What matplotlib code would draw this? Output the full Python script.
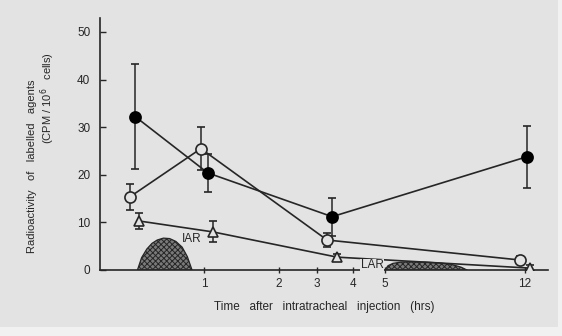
import numpy as np
import matplotlib
matplotlib.use('Agg')
import matplotlib.pyplot as plt
from matplotlib.patches import Rectangle

plt.rcParams['font.family'] = ['Liberation Sans', 'DejaVu Sans']
plt.rcParams['hatch.linewidth'] = 0.7

# data
x_ticks = [1, 2, 3, 4, 5, 12]
y_ticks = [0, 10, 20, 30, 40, 50]

t_open = [0.29, 0.97, 3.28, 11.75]
open_vals = [15.4, 25.5, 6.3, 2.1]
open_err = [2.7, 4.5, 1.5, 0.8]

t_filled = [0.34, 1.05, 3.42, 12.09]
filled_vals = [32.2, 20.4, 11.2, 23.8]
filled_err = [11.0, 4.0, 4.0, 6.5]

t_tri = [0.375, 1.12, 3.56, 12.2]
tri_vals = [10.3, 8.0, 2.7, 0.4]
tri_err = [1.7, 2.2, 0.6, 0.6]

iar_t = [0.36, 0.40, 0.45, 0.50, 0.55, 0.61, 0.67, 0.73, 0.79, 0.84, 0.885]
iar_h = [0, 2.6, 4.4, 5.6, 6.3, 6.7, 6.6, 6.0, 4.8, 2.8, 0]

lar_t = [5.0, 5.15, 5.4, 5.8, 6.3, 7.0, 7.7, 8.3, 8.8, 9.1]
lar_h = [0, 0.9, 1.4, 1.65, 1.7, 1.65, 1.5, 1.2, 0.6, 0]

# the time axis of the original is hand drawn, not linear
knot_t = np.array([-10, 0, 1, 2, 3, 4, 5, 12, 13, 100])
knot_p = np.array([-940, 100, 204, 279, 317, 353, 385, 525, 548, 4550], dtype=float)

def fwd(t):
    return np.interp(t, knot_t, knot_p)

def inv(p):
    return np.interp(p, knot_p, knot_t)

BG = '#e3e3e3'
INK = '#262626'

fig = plt.figure(figsize=(5.62, 3.36), dpi=100, facecolor=BG)
# lighter page border at right and bottom of the scan
fig.patches.append(Rectangle((558 / 562, 0), 4 / 562, 1, transform=fig.transFigure,
                             facecolor='#f1f1f1', edgecolor='none'))
fig.patches.append(Rectangle((0, 0), 1, 9 / 336, transform=fig.transFigure,
                             facecolor='#f1f1f1', edgecolor='none'))

ax = fig.add_axes([100 / 562, 1 - 270 / 336, 448 / 562, 252.3 / 336])
ax.patch.set_alpha(0)
ax.set_xscale('function', functions=(fwd, inv))
ax.set_xlim(0, 13)
ax.set_ylim(0, 53)

for s in ['top', 'right']:
    ax.spines[s].set_visible(False)
for s in ['left', 'bottom']:
    ax.spines[s].set_color(INK)
    ax.spines[s].set_linewidth(1.2)

ax.set_xticks(x_ticks)
ax.set_xticklabels([str(v) for v in x_ticks])
ax.set_yticks(y_ticks)
ax.tick_params(axis='x', direction='inout', length=4, width=1, color=INK,
               labelsize=8.5, pad=4, labelcolor=INK)
ax.tick_params(axis='y', direction='in', length=4, width=1, color=INK,
               labelsize=8.5, pad=7, labelcolor=INK)
ax.minorticks_off()

# shaded reaction periods
ax.fill_between(iar_t, iar_h, 0, facecolor='#7a7a7a', edgecolor=INK,
                hatch='xxxxxx', linewidth=0.9, zorder=2)
ax.fill_between(lar_t, lar_h, 0, facecolor='#7a7a7a', edgecolor=INK,
                hatch='xxxxxx', linewidth=0.9, zorder=2)

kw = dict(color=INK, lw=1.2, capsize=3.2, capthick=1.1, elinewidth=1.1,
          markersize=8, markeredgewidth=1.2, zorder=4)
ax.errorbar(t_filled, filled_vals, yerr=filled_err, fmt='-o',
            markerfacecolor='black', markeredgecolor='black', **kw)
ax.errorbar(t_open, open_vals, yerr=open_err, fmt='-o',
            markerfacecolor=BG, markeredgecolor=INK, **kw)
kw['markersize'] = 6.5
ax.errorbar(t_tri, tri_vals, yerr=tri_err, fmt='-^',
            markerfacecolor=BG, markeredgecolor=INK, **kw)

ax.text(0.88, 6.5, 'IAR', fontsize=8.5, color=INK, ha='center', va='center', zorder=5)
ax.text(4.6, 1.0, 'LAR', fontsize=8.5, color=INK, ha='center', va='center', zorder=5,
        bbox=dict(facecolor=BG, edgecolor='none', pad=0.5))

ax.set_xlabel('Time   after   intratracheal   injection   (hrs)', fontsize=8.5,
              color=INK, labelpad=8)
fig.text(32 / 562, 1 - 166 / 336, 'Radioactivity   of   labelled   agents',
         rotation=90, fontsize=8, color=INK, ha='center', va='center')
fig.text(48 / 562, 1 - 98 / 336, '(CPM / 10$^6$   cells)',
         rotation=90, fontsize=8, color=INK, ha='center', va='center')

fig.savefig('out.png', dpi=100, facecolor=fig.get_facecolor())
